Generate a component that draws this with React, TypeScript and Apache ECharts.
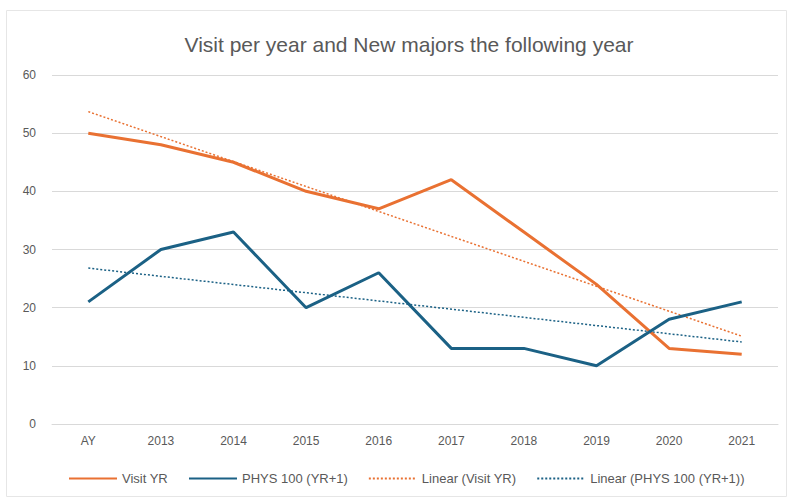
import React, { useEffect, useRef } from "react";
import * as echarts from "echarts";

const categories = ["AY", "2013", "2014", "2015", "2016", "2017", "2018", "2019", "2020", "2021"];
const visitYR = [50, 48, 45, 40, 37, 42, 33, 24, 13, 12];
const phys100 = [21, 30, 33, 20, 26, 13, 13, 10, 18, 21];
// trendline end points (first and last category)
const visitTrend = [53.7, null, null, null, null, null, null, null, null, 15.1];
const physTrend = [26.8, null, null, null, null, null, null, null, null, 14.1];
const yTicks = { min: 0, max: 60, interval: 10 };

const ORANGE = "#E97132";
const BLUE = "#1B6185";
const TEXT = "#595959";
const FONT = "'Liberation Sans', Arial, sans-serif";

export default function App() {
  const ref = useRef<HTMLDivElement>(null);
  useEffect(() => {
    if (!ref.current) return;
    const chart = echarts.init(ref.current, undefined, { renderer: "svg" });
    chart.setOption({
      animation: false,
      backgroundColor: "#fff",
      textStyle: { fontFamily: FONT },
      graphic: [
        {
          type: "rect",
          shape: { x: 6.5, y: 10.5, width: 780, height: 486 },
          style: { fill: "none", stroke: "#E6E6E6", lineWidth: 1 },
          silent: true,
        },
      ],
      title: {
        text: "Visit per year and New majors the following year",
        left: 404,
        textAlign: "center",
        top: 29,
        textStyle: { color: TEXT, fontSize: 21, fontWeight: "normal", fontFamily: FONT },
      },
      legend: {
        left: 63,
        top: 467,
        itemWidth: 48,
        itemHeight: 12,
        itemGap: 20,
        itemStyle: { opacity: 0, borderWidth: 0 },
        textStyle: { color: TEXT, fontSize: 13, fontFamily: FONT },
        data: ["Visit YR", "PHYS 100 (YR+1)", "Linear (Visit YR)", "Linear (PHYS 100 (YR+1))"],
      },
      grid: { left: 52, right: 14, top: 75, bottom: 75 },
      xAxis: {
        type: "category",
        data: categories,
        boundaryGap: true,
        axisLine: { show: true, lineStyle: { color: "#D9D9D9" } },
        axisTick: { show: false },
        axisLabel: { color: TEXT, fontSize: 12, margin: 11, fontFamily: FONT },
      },
      yAxis: {
        type: "value",
        min: yTicks.min,
        max: yTicks.max,
        interval: yTicks.interval,
        axisLine: { show: false },
        axisTick: { show: false },
        splitLine: { lineStyle: { color: "#D9D9D9", width: 1 } },
        axisLabel: { color: TEXT, fontSize: 12, margin: 16, fontFamily: FONT },
      },
      series: [
        {
          name: "Visit YR",
          type: "line",
          data: visitYR,
          symbol: "none",
          lineStyle: { color: ORANGE, width: 3 },
          itemStyle: { color: ORANGE },
          z: 3,
        },
        {
          name: "PHYS 100 (YR+1)",
          type: "line",
          data: phys100,
          symbol: "none",
          lineStyle: { color: BLUE, width: 3 },
          itemStyle: { color: BLUE },
          z: 3,
        },
        {
          name: "Linear (Visit YR)",
          type: "line",
          data: visitTrend,
          connectNulls: true,
          symbol: "none",
          lineStyle: { color: ORANGE, width: 1.5, type: [2, 2] },
          itemStyle: { color: ORANGE },
          z: 2,
        },
        {
          name: "Linear (PHYS 100 (YR+1))",
          type: "line",
          data: physTrend,
          connectNulls: true,
          symbol: "none",
          lineStyle: { color: BLUE, width: 1.5, type: [2, 2] },
          itemStyle: { color: BLUE },
          z: 2,
        },
      ],
    });
    return () => chart.dispose();
  }, []);
  return (
    <div
      ref={ref}
      style={{ position: "fixed", left: 0, top: 0, width: 792, height: 499 }}
    />
  );
}
